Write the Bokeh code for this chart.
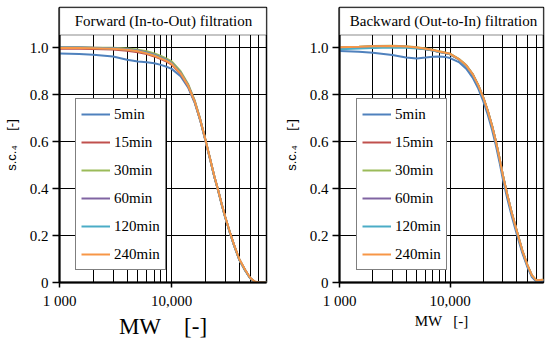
from bokeh.plotting import figure
from bokeh.models import (FixedTicker, CustomJSTickFormatter, Label, BoxAnnotation,
                          Legend, LegendItem, Range1d)
from bokeh.layouts import row
from bokeh.embed import file_html
from bokeh.resources import INLINE

# ---------------- data ----------------
MW = [1000, 1500, 2000, 3000, 4000, 5000, 6000, 7000, 8000, 9000, 10000, 12000, 14000,
      16000, 18000, 20000, 22000, 24000, 26000, 28000, 30000, 33000, 36000, 40000,
      45000, 50000, 55000, 60000, 70000]

SERIES = ["5min", "15min", "30min", "60min", "120min", "240min"]
COLORS = ["#4F81BD", "#C0504D", "#9BBB59", "#8064A2", "#4BACC6", "#F79646"]

fwd_5 = [0.974, 0.972, 0.969, 0.962, 0.948, 0.940, 0.937, 0.933, 0.926, 0.918, 0.909, 0.878, 0.830,
         0.766, 0.688, 0.603, 0.523, 0.449, 0.389, 0.329, 0.277, 0.212, 0.157, 0.097, 0.052, 0.018,
         0.003, 0.0, 0.0]
fwd_15 = [0.995, 0.995, 0.994, 0.991, 0.986, 0.980, 0.972, 0.962, 0.951, 0.940, 0.927, 0.887, 0.835,
          0.769, 0.689, 0.604, 0.524, 0.450, 0.390, 0.330, 0.278, 0.213, 0.158, 0.098, 0.053, 0.019,
          0.003, 0.0, 0.0]
fwd_30 = [1.001, 1.001, 1.000, 0.999, 0.996, 0.991, 0.984, 0.975, 0.964, 0.953, 0.941, 0.899, 0.845,
          0.776, 0.694, 0.608, 0.527, 0.452, 0.391, 0.331, 0.279, 0.214, 0.159, 0.099, 0.054, 0.019,
          0.003, 0.0, 0.0]
fwd_60 = [1.000, 1.000, 0.999, 0.997, 0.993, 0.987, 0.979, 0.969, 0.958, 0.947, 0.934, 0.893, 0.840,
          0.773, 0.692, 0.606, 0.526, 0.451, 0.391, 0.331, 0.279, 0.214, 0.159, 0.099, 0.054, 0.019,
          0.003, 0.0, 0.0]
fwd_120 = [0.999, 0.999, 0.998, 0.996, 0.991, 0.985, 0.977, 0.967, 0.956, 0.945, 0.932, 0.891, 0.838,
           0.771, 0.690, 0.605, 0.525, 0.450, 0.390, 0.330, 0.278, 0.213, 0.158, 0.098, 0.053, 0.019,
           0.003, 0.0, 0.0]
fwd_240 = [0.998, 0.998, 0.997, 0.995, 0.990, 0.984, 0.975, 0.965, 0.954, 0.943, 0.930, 0.890, 0.838,
           0.772, 0.692, 0.607, 0.527, 0.452, 0.392, 0.332, 0.280, 0.215, 0.160, 0.100, 0.055, 0.020,
           0.004, 0.0, 0.0]

bwd_5 = [0.985, 0.982, 0.978, 0.968, 0.957, 0.953, 0.957, 0.961, 0.962, 0.960, 0.955, 0.938, 0.910,
         0.872, 0.825, 0.771, 0.712, 0.649, 0.582, 0.512, 0.440, 0.355, 0.285, 0.208, 0.126, 0.066,
         0.023, 0.005, 0.006]
bwd_15 = [0.998, 1.001, 1.003, 1.004, 1.002, 0.998, 0.993, 0.987, 0.981, 0.976, 0.971, 0.949, 0.922,
          0.885, 0.838, 0.785, 0.727, 0.665, 0.598, 0.528, 0.456, 0.370, 0.298, 0.220, 0.135, 0.073,
          0.028, 0.008, 0.010]
bwd_30 = [1.000, 1.003, 1.006, 1.007, 1.005, 1.001, 0.996, 0.990, 0.984, 0.979, 0.974, 0.952, 0.925,
          0.888, 0.841, 0.788, 0.730, 0.668, 0.601, 0.531, 0.459, 0.373, 0.301, 0.223, 0.138, 0.076,
          0.031, 0.010, 0.012]
bwd_60 = [0.999, 1.002, 1.004, 1.005, 1.003, 0.999, 0.994, 0.988, 0.982, 0.977, 0.972, 0.950, 0.923,
          0.886, 0.839, 0.786, 0.728, 0.666, 0.599, 0.529, 0.457, 0.371, 0.299, 0.221, 0.136, 0.074,
          0.029, 0.009, 0.011]
bwd_120 = [0.993, 0.996, 0.998, 1.000, 0.999, 0.996, 0.992, 0.987, 0.981, 0.976, 0.971, 0.949, 0.922,
           0.885, 0.838, 0.785, 0.727, 0.665, 0.598, 0.528, 0.456, 0.370, 0.298, 0.220, 0.135, 0.073,
           0.028, 0.008, 0.010]
bwd_240 = [1.001, 1.003, 1.005, 1.006, 1.004, 1.000, 0.995, 0.989, 0.983, 0.978, 0.973, 0.951, 0.924,
           0.887, 0.840, 0.787, 0.729, 0.667, 0.600, 0.530, 0.458, 0.372, 0.300, 0.222, 0.137, 0.075,
           0.030, 0.010, 0.012]

X_TICKS = [1000, 10000]
X_TICK_LABELS = ["1 000", "10,000"]
X_MINOR = [2000, 3000, 4000, 5000, 6000, 7000, 8000, 9000,
           20000, 30000, 40000, 50000, 60000]
Y_TICKS = [0, 0.2, 0.4, 0.6, 0.8, 1.0]

TITLES = ["Forward (In-to-Out) filtration", "Backward (Out-to-In) filtration"]
Y_LABEL = "s.c.\u2084\u00a0\u00a0\u00a0\u00a0[-]"

# ---------------- layout constants ----------------
SERIF = "Liberation Serif"
SANS = "Liberation Sans"
FIG_H = 342
BORDER_TOP = 7
BORDER_BOTTOM = 60
FRAME_H = FIG_H - BORDER_TOP - BORDER_BOTTOM      # 275
PX_PER_UNIT = 235.0
Y_TOP = FRAME_H / PX_PER_UNIT                      # top of frame incl. title box
BOX_BOTTOM = (FRAME_H - 27.5) / PX_PER_UNIT        # bottom edge of the title box


def make_panel(title, ys, width, bl, br, legend_x, xlabel, xlabel_size, xlabel_standoff):
    frame_w = width - bl - br
    p = figure(width=width, height=FIG_H, x_axis_type="log",
               x_range=Range1d(1000, 70000), y_range=Range1d(0, Y_TOP),
               output_backend="svg", toolbar_location=None, title=None,
               min_border_left=bl, min_border_right=br,
               min_border_top=BORDER_TOP, min_border_bottom=BORDER_BOTTOM)
    p.background_fill_color = "white"
    p.border_fill_color = "white"
    p.outline_line_color = "black"
    p.outline_line_width = 1.5

    # x axis
    p.xaxis.ticker = FixedTicker(ticks=X_TICKS, minor_ticks=X_MINOR)
    p.xaxis.formatter = CustomJSTickFormatter(
        args=dict(xt=X_TICKS, xl=X_TICK_LABELS),
        code="const i = xt.indexOf(tick); return i >= 0 ? xl[i] : '';")
    p.xaxis.major_tick_out = 5
    p.xaxis.major_tick_in = 0
    p.xaxis.minor_tick_out = 0
    p.xaxis.minor_tick_in = 0
    p.xaxis.major_label_standoff = 5
    p.xaxis.axis_label = xlabel
    p.xaxis.axis_label_text_font = SERIF
    p.xaxis.axis_label_text_font_size = xlabel_size
    p.xaxis.axis_label_text_font_style = "normal"
    p.xaxis.axis_label_text_color = "black"
    p.xaxis.axis_label_standoff = xlabel_standoff
    p.xgrid.grid_line_color = "black"
    p.xgrid.grid_line_width = 1
    p.xgrid.minor_grid_line_color = "black"
    p.xgrid.minor_grid_line_width = 1

    # y axis
    p.yaxis.ticker = FixedTicker(ticks=Y_TICKS)
    p.yaxis.formatter = CustomJSTickFormatter(
        code="return tick === 0 ? '0' : tick.toFixed(1);")
    p.yaxis.major_tick_out = 7
    p.yaxis.major_tick_in = 0
    p.yaxis.minor_tick_out = 0
    p.yaxis.minor_tick_in = 0
    p.yaxis.major_label_standoff = 4
    p.yaxis.axis_label = Y_LABEL
    p.yaxis.axis_label_text_font = SANS
    p.yaxis.axis_label_text_font_size = "13px"
    p.yaxis.axis_label_text_font_style = "normal"
    p.yaxis.axis_label_text_color = "black"
    p.yaxis.axis_label_standoff = 8
    p.ygrid.grid_line_color = "black"
    p.ygrid.grid_line_width = 1

    for ax in (p.xaxis, p.yaxis):
        ax.axis_line_color = "black"
        ax.axis_line_width = 2
        ax.major_tick_line_color = "black"
        ax.major_tick_line_width = 1.5
        ax.major_label_text_font = SERIF
        ax.major_label_text_font_size = "15px"
        ax.major_label_text_color = "black"

    items = []
    for name, col, y in zip(SERIES, COLORS, ys):
        r = p.line(MW, y, line_color=col, line_width=2)
        items.append(LegendItem(label=name, renderers=[r]))

    legend = Legend(items=items, location=(legend_x, 12))
    legend.border_line_color = "black"
    legend.border_line_width = 1.5
    legend.background_fill_color = "white"
    legend.background_fill_alpha = 1
    legend.label_text_font = SERIF
    legend.label_text_font_size = "15px"
    legend.label_text_color = "black"
    legend.glyph_width = 29
    legend.glyph_height = 20
    legend.label_height = 20
    legend.spacing = 8
    legend.padding = 5
    legend.label_standoff = 4
    legend.margin = 0
    p.add_layout(legend)

    # title box inside the top of the frame
    p.add_layout(BoxAnnotation(bottom=BOX_BOTTOM, fill_color="white", fill_alpha=1,
                               line_color="black", line_width=1.5))
    p.add_layout(Label(x=frame_w / 2, y=(BOX_BOTTOM + Y_TOP) / 2, x_units="screen",
                       y_units="data", text=title, text_align="center",
                       text_baseline="middle", text_font=SERIF,
                       text_font_size="15px", text_color="black"))
    return p


p1 = make_panel(TITLES[0], [fwd_5, fwd_15, fwd_30, fwd_60, fwd_120, fwd_240],
                280, 58, 14, 16, "MW\u00a0\u00a0\u00a0\u00a0[-]", "23px", 2)
p2 = make_panel(TITLES[1], [bwd_5, bwd_15, bwd_30, bwd_60, bwd_120, bwd_240],
                270, 55, 7, 17, "MW\u00a0\u00a0\u00a0[-]", "15px", 1)

layout = row(p1, p2, spacing=0)
open("out.html", "w").write(file_html(layout, INLINE))
